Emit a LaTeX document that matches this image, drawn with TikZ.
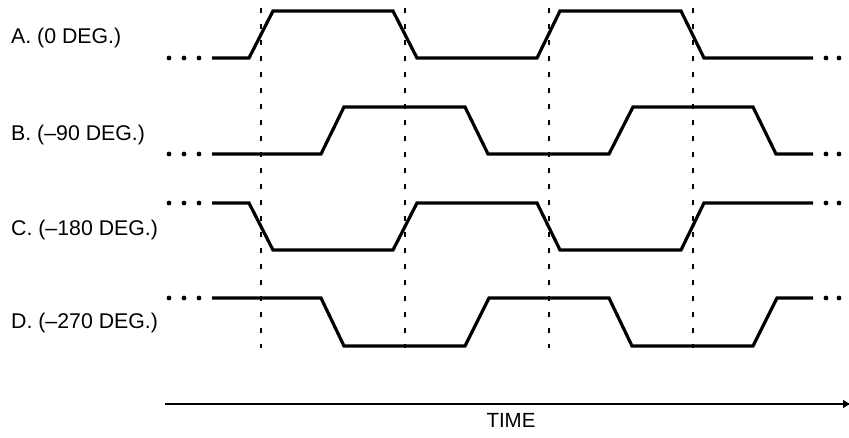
\documentclass[tikz,border=0pt]{standalone}
\usepackage{fontspec}
\setmainfont{Liberation Sans}
\usetikzlibrary{arrows.meta}
\begin{document}
\begin{tikzpicture}[x=1pt,y=-1pt,
  sig/.style={line width=3.2pt,line join=miter},
  guide/.style={line width=2.1pt,dash pattern=on 5pt off 11pt},
  dotmark/.style={fill=black},
  lbl/.style={anchor=west,inner sep=0pt,font=\fontsize{21.3}{24}\selectfont},
  axis/.style={line width=2.7pt,-{Latex[length=8pt,width=9pt]}}]
\useasboundingbox (0,0) rectangle (849,437);
% labels
\node[lbl] (la) at (11,38) {A. (0 DEG.)};
\node[lbl] (lb) at (11,135) {B. (\textendash90 DEG.)};
\node[lbl] (lc) at (11,230) {C. (\textendash180 DEG.)};
\node[lbl] (ld) at (11,323) {D. (\textendash270 DEG.)};
% guides
\foreach \x in {261,405,549,693}
  \draw[guide] (\x,8) -- (\x,348);
% signals
\draw[sig] (212,58) -- (249,58) -- (273,11) -- (393,11) -- (417,58) -- (537,58) -- (560,11) -- (681,11) -- (704,58) -- (813,58);
\draw[sig] (212,154) -- (321,154) -- (344,107) -- (465,107) -- (488,154) -- (609,154) -- (633,107) -- (753,107) -- (776,154) -- (813,154);
\draw[sig] (212,203) -- (249,203) -- (273,250) -- (393,250) -- (417,203) -- (537,203) -- (560,250) -- (681,250) -- (704,203) -- (813,203);
\draw[sig] (212,298) -- (321,298) -- (344,346) -- (465,346) -- (489,298) -- (609,298) -- (632,346) -- (753,346) -- (777,298) -- (813,298);
% dots
\foreach \y in {58,154,203,298}{
  \foreach \x in {169,184,199,826,839,853}
    \fill[dotmark] (\x,\y) circle (2.4pt);
}
% time axis
\coordinate (t0) at (165,404);
\coordinate (t1) at (851,404);
\draw[axis] (t0) -- (t1);
\node[inner sep=0pt,font=\fontsize{20.5}{24}\selectfont] (time) at (511,420) {TIME};
\end{tikzpicture}
\end{document}
